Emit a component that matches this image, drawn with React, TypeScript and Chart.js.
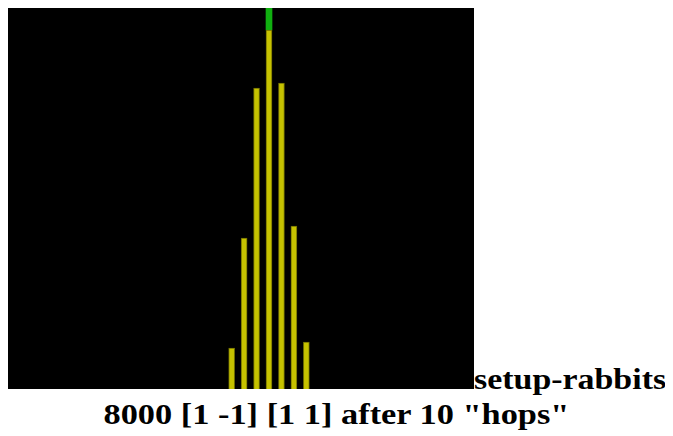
import React, { useEffect, useRef } from "react";
import { Chart, registerables } from "chart.js";

Chart.register(...registerables);

// rabbit y-coordinates after 10 hops, and how many rabbits ended there
const positions = [-6, -4, -2, 0, 2, 4, 6];
const counts = [224, 826, 1646, 1963, 1673, 891, 257];
// overflow marker above the tallest stack
const overflowPos = [0];
const overflowRange: [number, number][] = [[1963, 2150]];

const Y_MAX = 2100;
const X_MIN = -42.41;
const X_MAX = 32.93;

const TITLE_SCALE_X = 1.13;
const CAPTION_SCALE_X = 1.145;

function RabbitChart() {
  const ref = useRef<HTMLCanvasElement | null>(null);
  useEffect(() => {
    if (!ref.current) return;
    const chart = new Chart(ref.current, {
      type: "bar",
      data: {
        datasets: [
          {
            label: "rabbits",
            data: positions.map((p, i) => ({ x: p, y: counts[i] })),
            backgroundColor: "rgb(198,194,0)",
            borderColor: "rgb(110,108,0)",
            borderWidth: 1,
            borderSkipped: "bottom",
            barThickness: 6,
            grouped: false,
          } as any,
          {
            label: "overflow",
            data: overflowPos.map((p, i) => ({ x: p, y: overflowRange[i] })),
            backgroundColor: "rgb(16,176,16)",
            borderWidth: 0,
            barThickness: 6,
            grouped: false,
          } as any,
        ],
      },
      options: {
        animation: false,
        responsive: true,
        maintainAspectRatio: false,
        layout: { padding: 0 },
        plugins: { legend: { display: false }, tooltip: { enabled: false } },
        scales: {
          x: { type: "linear", min: X_MIN, max: X_MAX, display: false, offset: false },
          y: { type: "linear", min: 0, max: Y_MAX, display: false },
        },
      },
    });
    return () => chart.destroy();
  }, []);
  return (
    <div
      style={{
        display: "inline-block",
        position: "relative",
        width: 469,
        height: 384,
        background: "#000",
        verticalAlign: "baseline",
      }}
    >
      <canvas ref={ref} />
    </div>
  );
}

export default function App() {
  return (
    <div
      style={{
        fontFamily: '"Liberation Serif", "Times New Roman", serif',
        fontWeight: "bold",
        fontSize: 30,
        marginLeft: -3,
        marginTop: -3,
        width: 663,
        color: "#000",
      }}
    >
      <div style={{ whiteSpace: "nowrap" }}>
        <RabbitChart />
        <span
          style={{
            display: "inline-block",
            transform: `scaleX(${TITLE_SCALE_X})`,
            transformOrigin: "left bottom",
          }}
        >
          setup-rabbits
        </span>
      </div>
      <div style={{ textAlign: "center", marginTop: 1, whiteSpace: "nowrap" }}>
        <span
          style={{
            display: "inline-block",
            transform: `scaleX(${CAPTION_SCALE_X})`,
            transformOrigin: "center bottom",
          }}
        >
          8000 [1 -1] [1 1] after 10 "hops"
        </span>
      </div>
    </div>
  );
}
